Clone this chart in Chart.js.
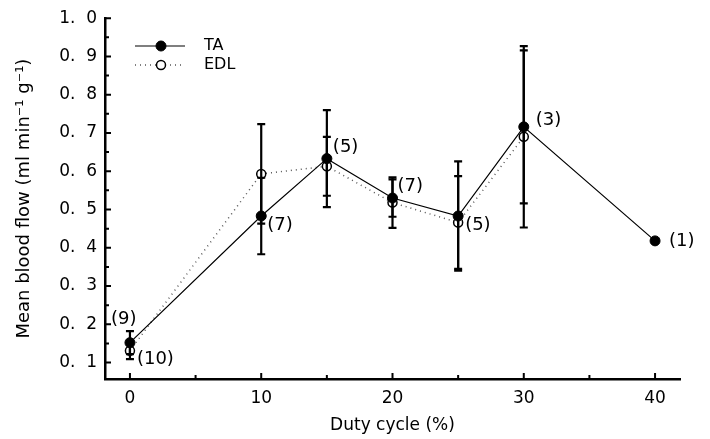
<!DOCTYPE html>
<html>
<head>
<meta charset="utf-8">
<script src="https://cdn.jsdelivr.net/npm/chart.js@4"></script>
<style>
html, body { margin: 0; padding: 0; background: #fff; }
#wrap { width: 710px; height: 439px; }
</style>
</head>
<body>
<div id="wrap"><canvas id="chart" width="710" height="439"></canvas></div>
<script>
const taDuty = [0, 10, 15, 20, 25, 30, 40];
const taFlow = [0.152, 0.483, 0.633, 0.53, 0.483, 0.716, 0.418];
const taErr = [0.03, 0.10, 0.127, 0.049, 0.143, 0.2, 0];
const taN = ["(9)", "(7)", "(5)", "(7)", "(5)", "(3)", "(1)"];

const edlDuty = [0, 10, 15, 20, 25, 30];
const edlFlow = [0.131, 0.593, 0.613, 0.518, 0.466, 0.69];
const edlErr = [0.022, 0.13, 0.077, 0.066, 0.121, 0.237];
const edlN = ["(10)", "", "", "", "", ""];

const xTicks = [0, 10, 20, 30, 40];
const xMinorTicks = [5, 15, 25, 35];
const yTicks = [0.1, 0.2, 0.3, 0.4, 0.5, 0.6, 0.7, 0.8, 0.9, 1.0];
const yMinorTicks = [0.15, 0.25, 0.35, 0.45, 0.55, 0.65, 0.75, 0.85, 0.95];

// label offsets in px from the point (style only)
const taNOffset = [[-19, -23], [6, 9], [6, -11], [5, -12], [7, 9], [12, -7], [14, 0]];
const edlNOffset = [[7, 9]];

const FONT = "'DejaVu Sans', sans-serif";

function pts(xs, ys) {
  return xs.map((x, i) => ({ x: x, y: ys[i] }));
}

const extras = {
  id: "extras",
  afterDatasetsDraw(chart) {
    const ctx = chart.ctx;
    const xs = chart.scales.x, ys = chart.scales.y;
    const area = chart.chartArea;

    // error bars
    const sets = [[taDuty, taFlow, taErr], [edlDuty, edlFlow, edlErr]];
    ctx.save();
    ctx.strokeStyle = "#000";
    ctx.lineWidth = 2.2;
    sets.forEach(([dx, dy, de]) => {
      dx.forEach((d, i) => {
        if (!de[i]) return;
        const px = xs.getPixelForValue(d);
        const top = ys.getPixelForValue(dy[i] + de[i]);
        const bot = ys.getPixelForValue(dy[i] - de[i]);
        ctx.beginPath();
        ctx.moveTo(px, top); ctx.lineTo(px, bot);
        ctx.moveTo(px - 4, top); ctx.lineTo(px + 4, top);
        ctx.moveTo(px - 4, bot); ctx.lineTo(px + 4, bot);
        ctx.stroke();
      });
    });

    // n labels
    ctx.fillStyle = "#000";
    ctx.font = "18px " + FONT;
    ctx.textAlign = "left";
    ctx.textBaseline = "middle";
    taDuty.forEach((d, i) => {
      const o = taNOffset[i];
      ctx.fillText(taN[i], xs.getPixelForValue(d) + o[0], ys.getPixelForValue(taFlow[i]) + o[1]);
    });
    edlDuty.forEach((d, i) => {
      if (!edlN[i]) return;
      const o = edlNOffset[i];
      ctx.fillText(edlN[i], xs.getPixelForValue(d) + o[0], ys.getPixelForValue(edlFlow[i]) + o[1]);
    });

    // inward ticks
    ctx.lineWidth = 2;
    ctx.beginPath();
    yTicks.forEach(v => {
      const py = ys.getPixelForValue(v);
      ctx.moveTo(area.left, py); ctx.lineTo(area.left + 6, py);
    });
    yMinorTicks.forEach(v => {
      const py = ys.getPixelForValue(v);
      ctx.moveTo(area.left, py); ctx.lineTo(area.left + 4, py);
    });
    xTicks.forEach(v => {
      const px = xs.getPixelForValue(v);
      ctx.moveTo(px, area.bottom); ctx.lineTo(px, area.bottom - 6);
    });
    xMinorTicks.forEach(v => {
      const px = xs.getPixelForValue(v);
      ctx.moveTo(px, area.bottom); ctx.lineTo(px, area.bottom - 4);
    });
    ctx.stroke();

    // legend
    const items = chart.data.datasets;
    items.forEach((ds, i) => {
      const y = 46 + i * 19;
      ctx.strokeStyle = ds.borderColor;
      ctx.lineWidth = ds.borderWidth;
      ctx.setLineDash(ds.borderDash || []);
      ctx.beginPath();
      ctx.moveTo(135, y); ctx.lineTo(185, y);
      ctx.stroke();
      ctx.setLineDash([]);
      ctx.beginPath();
      ctx.arc(161, y, ds.pointRadius, 0, Math.PI * 2);
      ctx.fillStyle = ds.pointBackgroundColor;
      ctx.fill();
      ctx.strokeStyle = "#000";
      ctx.lineWidth = ds.pointBorderWidth;
      ctx.stroke();
      ctx.fillStyle = "#000";
      ctx.font = "16px " + FONT;
      ctx.fillText(ds.label, 204, y);
    });
    ctx.restore();
  }
};

new Chart(document.getElementById("chart"), {
  type: "line",
  data: {
    datasets: [
      {
        label: "TA",
        data: pts(taDuty, taFlow),
        borderColor: "#000",
        borderWidth: 1.2,
        pointRadius: 5,
        pointBackgroundColor: "#000",
        pointBorderColor: "#000",
        pointBorderWidth: 1,
        tension: 0
      },
      {
        label: "EDL",
        data: pts(edlDuty, edlFlow),
        borderColor: "#555",
        borderWidth: 1.5,
        borderDash: [1, 4],
        pointRadius: 4.5,
        pointBackgroundColor: "#fff",
        pointBorderColor: "#000",
        pointBorderWidth: 1.5,
        tension: 0
      }
    ]
  },
  options: {
    responsive: false,
    animation: false,
    maintainAspectRatio: false,
    layout: { padding: { left: 0, top: 15, right: 30, bottom: 0 } },
    plugins: { legend: { display: false }, tooltip: { enabled: false } },
    scales: {
      x: {
        type: "linear",
        min: -1.9,
        max: 41.9,
        afterBuildTicks: s => { s.ticks = xTicks.map(v => ({ value: v })); },
        afterFit: s => { s.height = 60; },
        grid: { display: false, drawTicks: false },
        border: { color: "#000", width: 2.5 },
        ticks: { padding: 9, color: "#000", font: { family: FONT, size: 17 } },
        title: {
          display: true,
          text: "Duty cycle (%)",
          color: "#000",
          font: { family: FONT, size: 17 },
          padding: { top: 0, bottom: 3 }
        }
      },
      y: {
        min: 0.057,
        max: 1.0,
        afterBuildTicks: s => { s.ticks = yTicks.map(v => ({ value: v })); },
        afterFit: s => { s.width = 105; },
        grid: { display: false, drawTicks: false },
        border: { color: "#000", width: 2.5 },
        ticks: {
          padding: 8,
          color: "#000",
          font: { family: FONT, size: 17 },
          callback: v => v.toFixed(1).replace(".", ".  ")
        },
        title: {
          display: true,
          text: "Mean blood flow (ml min\u207B\u00B9 g\u207B\u00B9)",
          color: "#000",
          font: { family: FONT, size: 18 },
          padding: { top: 14, bottom: 0 }
        }
      }
    }
  },
  plugins: [extras]
});
</script>
</body>
</html>
